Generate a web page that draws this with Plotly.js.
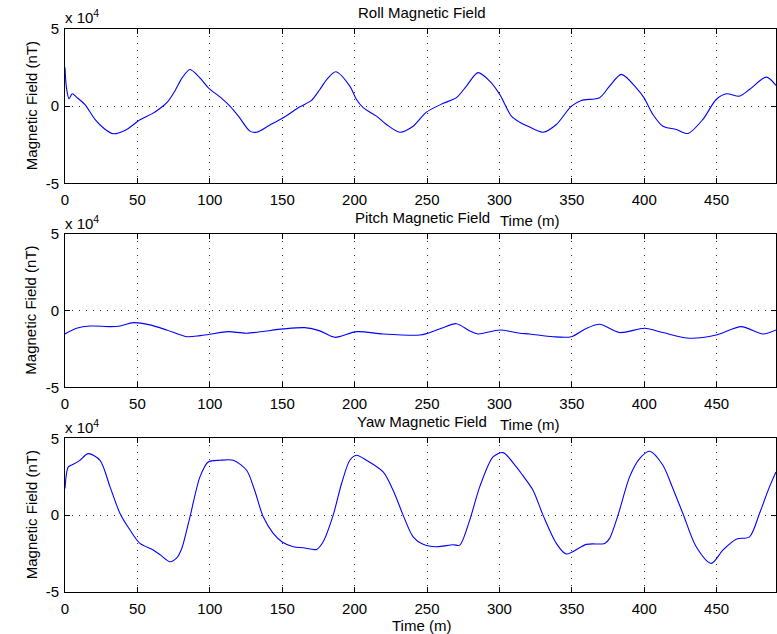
<!DOCTYPE html>
<html>
<head>
<meta charset="utf-8">
<script src="https://cdn.plot.ly/plotly-3.0.1.min.js"></script>
<style>html,body{margin:0;padding:0;background:#fff;}#chart{width:777px;height:634px;}</style>
</head>
<body>
<div id="chart"></div>
<script>
// Values in units of 10^4 nT, time in m
const rollT = [0,1,2.8,5,8,13.8,20.7,27,33.3,42.6,51.8,60,66,71,76,81,86.3,93,99,107.6,113.9,120,127.7,132.3,141,150.7,162.2,170.2,176,181,187,196.7,201.3,205.9,215.1,222,231.2,240.4,249.6,261.1,270.3,277.2,285.2,293.3,300.2,308.3,314,319.7,330.1,339.3,349.7,356.6,369.2,376.1,384.2,394.5,399.8,406,412.9,422.1,430.2,440.5,449.7,456.7,465.8,472.7,484.3,491];
const rollV = [2.5,1.2,0.48,0.8,0.58,0.1,-0.86,-1.45,-1.79,-1.51,-0.88,-0.5,-0.12,0.3,1.0,1.85,2.38,1.85,1.19,0.55,0,-0.68,-1.62,-1.69,-1.25,-0.75,-0.04,0.37,1.08,1.75,2.23,1.3,0.43,-0.1,-0.65,-1.19,-1.69,-1.3,-0.39,0.18,0.55,1.3,2.17,1.62,0.76,-0.65,-1.04,-1.3,-1.69,-1.19,0,0.37,0.55,1.3,2.06,1.19,0.55,-0.54,-1.3,-1.51,-1.77,-0.86,0.43,0.8,0.65,1.08,1.88,1.34];

const pitchT = [0,8,17.3,31,38,47.1,58.7,70.2,84,93.2,100,112.7,125.4,150.7,165.6,176,186.3,201.3,219.7,245,249.6,260,270.3,279.5,285.2,300.2,314,320.9,337,349.7,358.9,369.2,383,400.3,412.9,431.3,449.7,467,481.9,491];
const pitchV = [-1.52,-1.15,-1.0,-1.04,-1.0,-0.78,-0.93,-1.26,-1.7,-1.63,-1.54,-1.37,-1.47,-1.19,-1.11,-1.32,-1.74,-1.37,-1.52,-1.59,-1.5,-1.15,-0.85,-1.32,-1.52,-1.26,-1.47,-1.52,-1.7,-1.7,-1.21,-0.89,-1.43,-1.15,-1.43,-1.8,-1.59,-1.04,-1.52,-1.26];

const yawT = [0,2.3,5.7,10,16.1,24.2,31.1,38,44.9,51.8,60.9,66,72.5,77,80.5,86.3,93.2,98.9,107,116.2,125.4,131,136.9,143.8,150,157.6,164.5,173.7,178.3,185.2,191,196.7,201.3,208.2,219.7,226.6,233.5,240.4,247.3,256.5,268,272.6,279.5,286.4,295.6,302.5,311.7,316,323.2,330.1,339.3,346.2,360,372.7,376.1,381.9,389.9,396.8,403.7,412.9,419.8,426.7,435.9,446.3,454.3,463.5,472.7,479.6,486.5,491];
const yawV = [1.73,3.14,3.31,3.55,4.0,3.57,1.84,0.11,-0.97,-1.84,-2.27,-2.6,-3.03,-2.8,-2.2,-0.11,2.49,3.46,3.57,3.57,2.92,1.6,-0.11,-1.19,-1.75,-2.06,-2.12,-2.23,-1.73,0,2.06,3.57,3.9,3.57,2.81,1.62,0,-1.41,-1.9,-2.06,-1.93,-1.95,-0.32,1.84,3.79,4.07,3.14,2.6,1.62,0,-1.84,-2.53,-1.9,-1.84,-1.51,0,2.49,3.68,4.16,3.25,1.73,0.11,-2.06,-3.14,-2.27,-1.56,-1.41,0.11,1.84,2.81];

const titles = ['Roll Magnetic Field','Pitch Magnetic Field','Yaw Magnetic Field'];
const xTicks = [0,50,100,150,200,250,300,350,400,450];
const yTicks = [-5,0,5];
const yTickText = ['-5','0','5'];

const W = 777, H = 634, ML = 65, MR = 1, MT = 29, MB = 42;
const pw = W - ML - MR, ph = H - MT - MB;
const px = x => (x - ML) / pw;
const py = y => (H - MB - y) / ph;

const font = {family: 'Arial, Liberation Sans, Helvetica, sans-serif', size: 15, color: '#000'};
const lineStyle = {color: '#0000ff', width: 1.1, shape: 'spline', smoothing: 0.8};

const traces = [
  {x: rollT, y: rollV, xaxis: 'x', yaxis: 'y', mode: 'lines', line: lineStyle},
  {x: pitchT, y: pitchV, xaxis: 'x2', yaxis: 'y2', mode: 'lines', line: lineStyle},
  {x: yawT, y: yawV, xaxis: 'x3', yaxis: 'y3', mode: 'lines', line: lineStyle}
];

function xax(anchor) {
  return {anchor: anchor, range: [0, 491], tickvals: xTicks, ticks: 'inside', ticklen: 5, tickcolor: '#000',
    showline: true, linecolor: '#000', linewidth: 1, mirror: 'allticks', zeroline: false,
    showgrid: true, gridcolor: '#333', gridwidth: 1, griddash: '1px,6px', tickfont: font, ticklabelstandoff: 3};
}
function yax(anchor, dom) {
  return {anchor: anchor, domain: dom, range: [-5, 5], tickvals: yTicks, ticktext: yTickText, ticks: 'inside', ticklen: 5, tickcolor: '#000',
    showline: true, linecolor: '#000', linewidth: 1, mirror: 'allticks', zeroline: false,
    showgrid: true, gridcolor: '#333', gridwidth: 1, griddash: '1px,6px', tickfont: font, ticklabelstandoff: 2};
}

const tops = [29, 234, 438.3];
const bots = [183.3, 387.3, 592.3];
const doms = tops.map((t, i) => [py(bots[i]), py(t)]);

const ann = [];
const titleY = [13, 217, 421];
const timeX = [529, 529, 421];
const timeY = [221, 425, 625];
for (let i = 0; i < 3; i++) {
  ann.push({text: titles[i], x: px(422), y: py(titleY[i]), xref: 'paper', yref: 'paper', showarrow: false, xanchor: 'center', yanchor: 'middle', font: font});
  ann.push({text: 'Time (m)', x: px(timeX[i]), y: py(timeY[i]), xref: 'paper', yref: 'paper', showarrow: false, xanchor: 'center', yanchor: 'middle', font: font});
  ann.push({text: 'x 10<sup>4</sup>', x: px(63), y: py(tops[i] - 12), xref: 'paper', yref: 'paper', showarrow: false, xanchor: 'left', yanchor: 'middle', font: font});
  ann.push({text: 'Magnetic Field (nT)', x: px(31), y: py((tops[i] + bots[i]) / 2), xref: 'paper', yref: 'paper', showarrow: false, xanchor: 'center', yanchor: 'middle', textangle: -90, font: font});
}

const layout = {
  width: W, height: H,
  margin: {l: ML, r: MR, t: MT, b: MB, pad: 0},
  showlegend: false,
  paper_bgcolor: '#fff', plot_bgcolor: '#fff',
  font: font,
  xaxis: xax('y'), yaxis: yax('x', doms[0]),
  xaxis2: xax('y2'), yaxis2: yax('x2', doms[1]),
  xaxis3: xax('y3'), yaxis3: yax('x3', doms[2]),
  annotations: ann
};

Plotly.newPlot('chart', traces, layout, {displayModeBar: false, staticPlot: true});
</script>
</body>
</html>
